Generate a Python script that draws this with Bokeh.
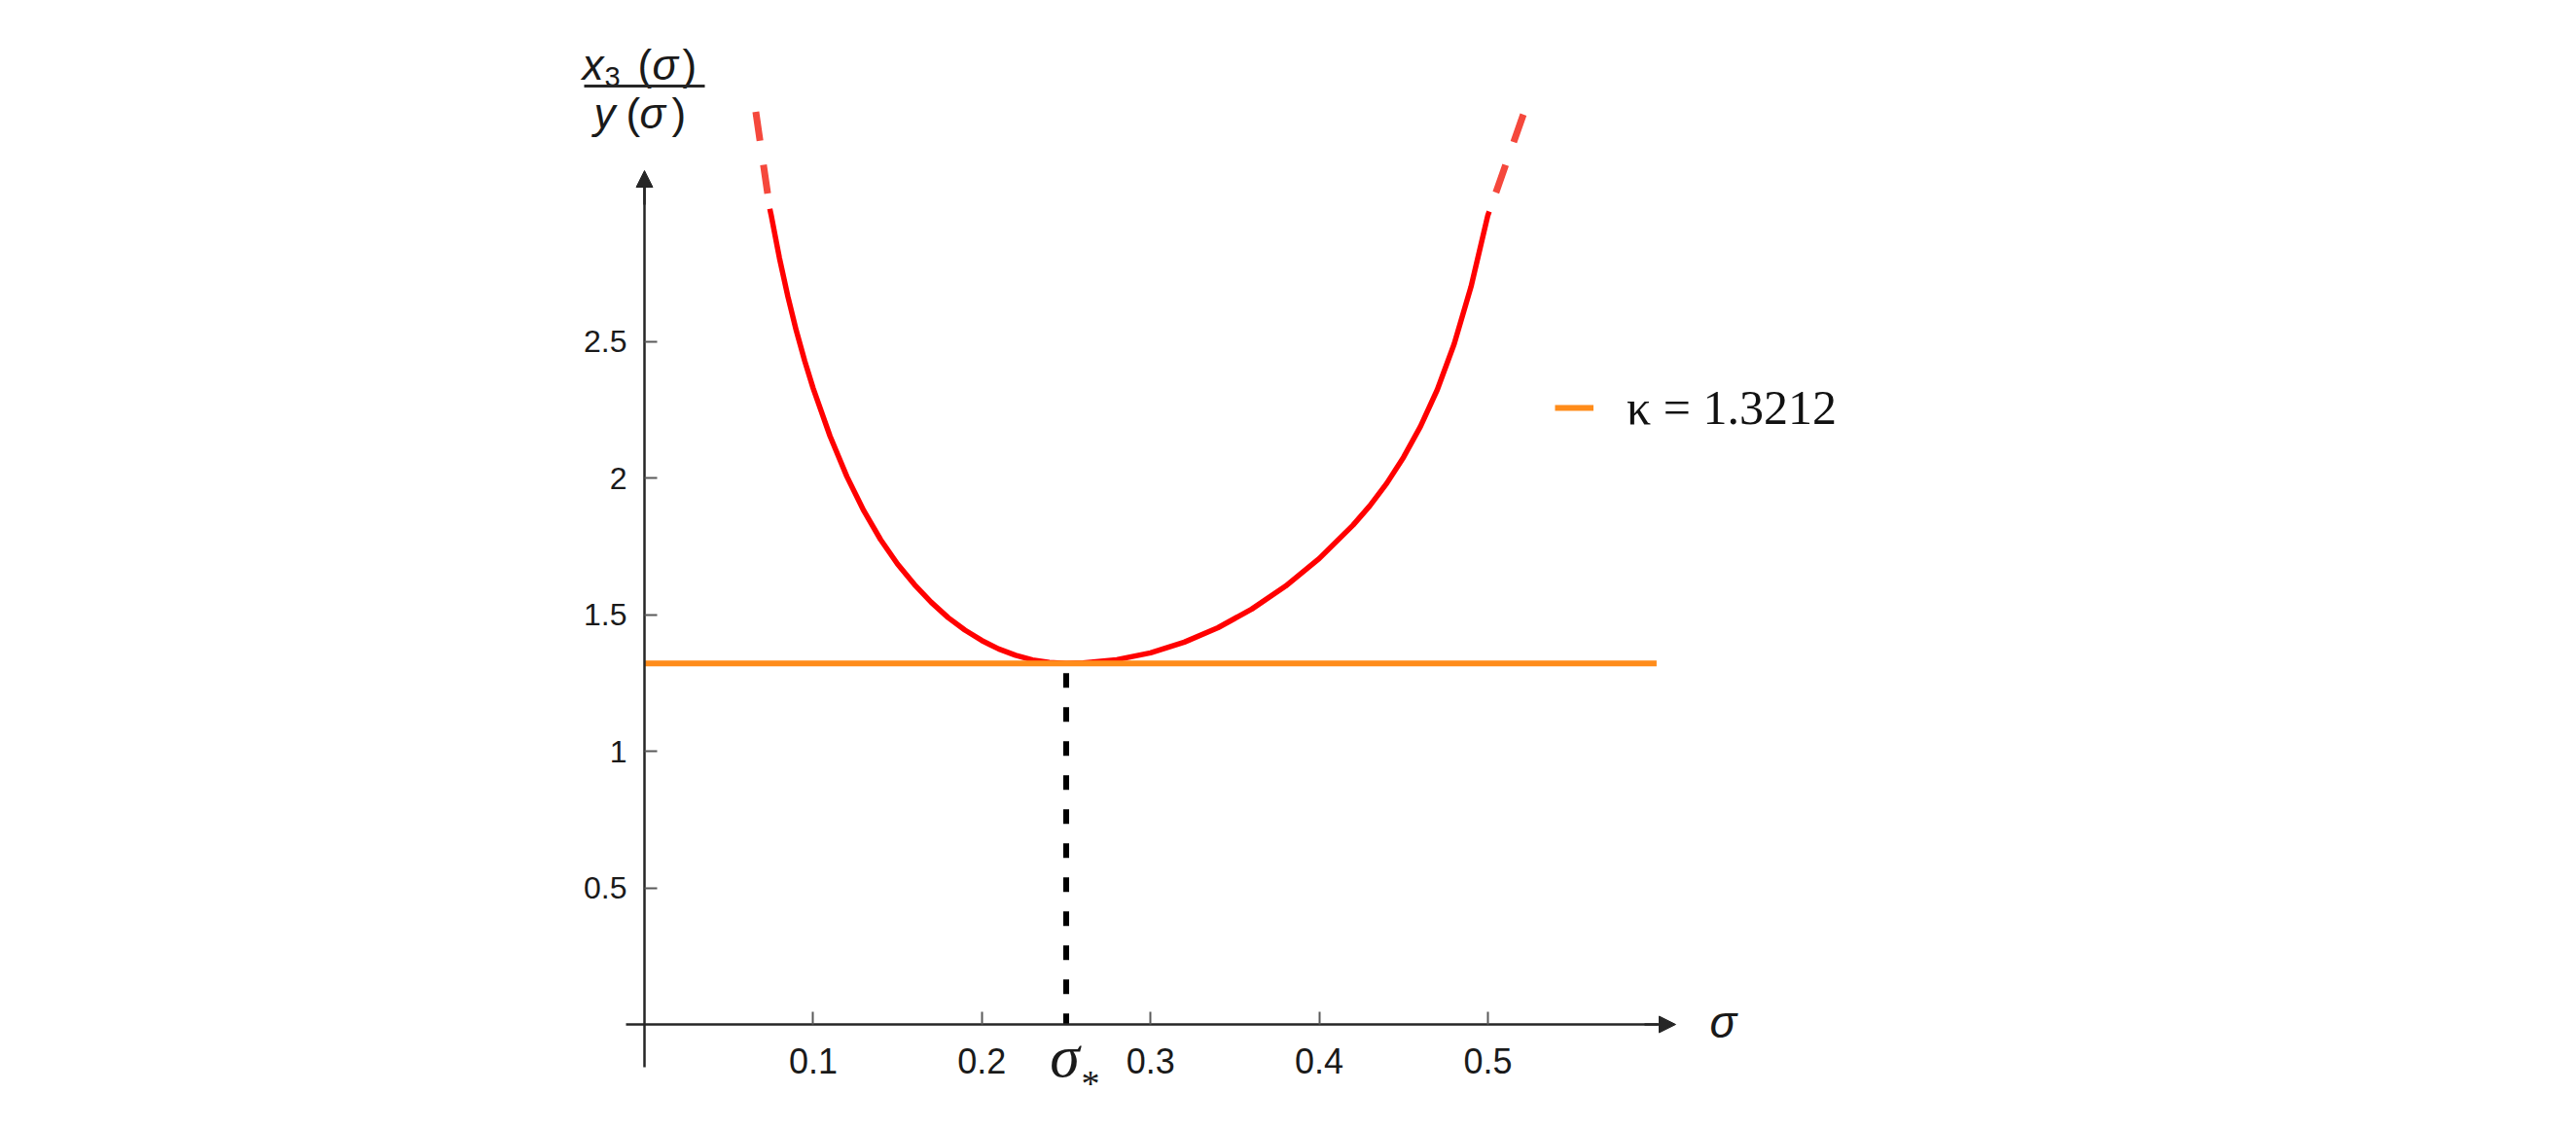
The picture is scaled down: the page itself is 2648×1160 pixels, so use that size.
from bokeh.plotting import figure
from bokeh.models import (Range1d, FixedTicker, Label, Arrow, NormalHead,
                          Legend, LegendItem, BoxAnnotation)
from bokeh.embed import file_html
from bokeh.resources import INLINE

# ---------------- data ----------------
sigma = [0.0743, 0.075, 0.080, 0.085, 0.090, 0.095, 0.100, 0.110, 0.120,
         0.130, 0.140, 0.150, 0.160, 0.170, 0.180, 0.190, 0.200, 0.210,
         0.220, 0.230, 0.240, 0.250, 0.260, 0.280, 0.300, 0.320, 0.340,
         0.360, 0.380, 0.400, 0.420, 0.430, 0.440, 0.450, 0.460, 0.470,
         0.480, 0.490, 0.500, 0.5008]
ratio = [2.985, 2.965, 2.805, 2.664, 2.539, 2.428, 2.328, 2.153, 2.005,
         1.880, 1.774, 1.685, 1.610, 1.545, 1.489, 1.443, 1.405, 1.374,
         1.351, 1.334, 1.3245, 1.3212, 1.3227, 1.335, 1.360, 1.399, 1.452,
         1.520, 1.604, 1.705, 1.827, 1.898, 1.980, 2.076, 2.188, 2.323,
         2.490, 2.700, 2.962, 2.975]
sigma_ext_left = [0.066, 0.0743]
ratio_ext_left = [3.34, 2.985]
sigma_ext_right = [0.521, 0.5008]
ratio_ext_right = [3.33, 2.975]

kappa = 1.3212
kappa_label = "κ = 1.3212"
kappa_span = [0.0, 0.6]
sigma_star = 0.25

x_ticks = [0.1, 0.2, 0.3, 0.4, 0.5]
x_tick_labels = ["0.1", "0.2", "0.3", "0.4", "0.5"]
y_ticks = [0.5, 1.0, 1.5, 2.0, 2.5]
y_tick_labels = ["0.5", "1", "1.5", "2", "2.5"]

# ---------------- layout ----------------
W, H = 2640, 1152
PX0, PXS = 662.0, 1734.0   # page px of sigma=0, px per unit
PY0, PYS = 1053.0, 281.0   # page px of value=0, px per unit


def dx(px):
    return (px - PX0) / PXS


def dy(py):
    return (PY0 - py) / PYS


AX = "#262626"
TXT = "#1a1a1a"

p = figure(width=W, height=H,
           x_range=Range1d(dx(0), dx(W)),
           y_range=Range1d(dy(H), dy(0)),
           toolbar_location=None, output_backend="svg", min_border=0)
p.outline_line_color = None
p.grid.visible = False
p.background_fill_color = "white"
p.border_fill_color = "white"

# x axis
xa = p.xaxis[0]
xa.fixed_location = 0
xa.axis_label = None
xa.bounds = (dx(643), dx(1704))
xa.ticker = FixedTicker(ticks=x_ticks)
xa.major_label_overrides = dict(zip(x_ticks, x_tick_labels))
xa.major_tick_in = 13
xa.major_tick_out = 0
xa.minor_tick_in = 0
xa.minor_tick_out = 0
xa.axis_line_width = 2.5
xa.axis_line_color = AX
xa.major_tick_line_color = "#5a5a5a"
xa.major_tick_line_width = 2
xa.major_label_text_font = "Liberation Sans"
xa.major_label_text_font_size = "36px"
xa.major_label_text_color = TXT
xa.major_label_standoff = 24

# y axis
ya = p.yaxis[0]
ya.fixed_location = 0
ya.axis_label = None
ya.bounds = (dy(1097), dy(192))
ya.ticker = FixedTicker(ticks=y_ticks)
ya.major_label_overrides = dict(zip(y_ticks, y_tick_labels))
ya.major_tick_in = 13
ya.major_tick_out = 0
ya.minor_tick_in = 0
ya.minor_tick_out = 0
ya.axis_line_width = 2.5
ya.axis_line_color = AX
ya.major_tick_line_color = "#5a5a5a"
ya.major_tick_line_width = 2
ya.major_label_text_font = "Liberation Sans"
ya.major_label_text_font_size = "32px"
ya.major_label_text_color = TXT
ya.major_label_standoff = 18
ya.major_label_orientation = "horizontal"

# arrow heads
p.add_layout(Arrow(end=NormalHead(size=17, fill_color=AX, line_color=AX, line_width=1),
                   x_start=dx(1690), y_start=0, x_end=dx(1722), y_end=0,
                   line_color=AX, line_width=2.5))
p.add_layout(Arrow(end=NormalHead(size=17, fill_color=AX, line_color=AX, line_width=1),
                   x_start=0, y_start=dy(210), x_end=0, y_end=dy(175),
                   line_color=AX, line_width=2.5))

# curves
p.line(sigma, ratio, line_color="#ff0000", line_width=5.5, line_join="round")
p.line(sigma_ext_left, ratio_ext_left, line_color="#f5483c", line_width=7,
       line_dash="30 25")
p.line(sigma_ext_right, ratio_ext_right, line_color="#f5483c", line_width=7,
       line_dash="30 25")
kap = p.line(kappa_span, [kappa, kappa], line_color="#ff8c1a", line_width=6)
p.line([sigma_star, sigma_star], [kappa, 0], line_color="black", line_width=6,
       line_dash="15 20", line_dash_offset=25)

# legend
leg = Legend(items=[LegendItem(label=kappa_label, renderers=[kap])],
             location=(1598, H - 449), padding=0, margin=0, spacing=0,
             glyph_width=40, glyph_height=60, label_height=60,
             label_standoff=34, label_text_font="Liberation Serif",
             label_text_font_size="50px", label_text_color="#111111",
             background_fill_alpha=0, border_line_alpha=0)
p.add_layout(leg)


def lab(x, y, text, font="Liberation Sans", size="44px", style="normal",
        align="left", baseline="alphabetic"):
    p.add_layout(Label(x=dx(x), y=dy(y), text=text, text_font=font,
                       text_font_size=size, text_font_style=style,
                       text_align=align, text_baseline=baseline,
                       text_color=TXT))


# sigma* under the axis
lab(1094, 1085, "σ", font="Liberation Serif", size="62px", style="italic",
    align="center")
lab(1111, 1113, "*", font="Liberation Serif", size="38px")

# x axis name
lab(1757, 1050, "σ", size="46px", style="italic")

# y axis name: x3(σ) / y(σ)
lab(598, 66, "x", style="italic")
lab(621, 78, "3", size="29px")
lab(655, 66, "(")
lab(670, 66, "σ", style="italic")
lab(701, 66, ")")
p.add_layout(BoxAnnotation(left=dx(600), right=dx(724), top=dy(86.5),
                           bottom=dy(89.5), fill_color=AX, fill_alpha=1,
                           line_alpha=0))
lab(610, 116, "y", style="italic")
lab(643, 116, "(")
lab(657, 116, "σ", style="italic")
lab(690, 116, ")")

open("out.html", "w").write(file_html(p, INLINE))
